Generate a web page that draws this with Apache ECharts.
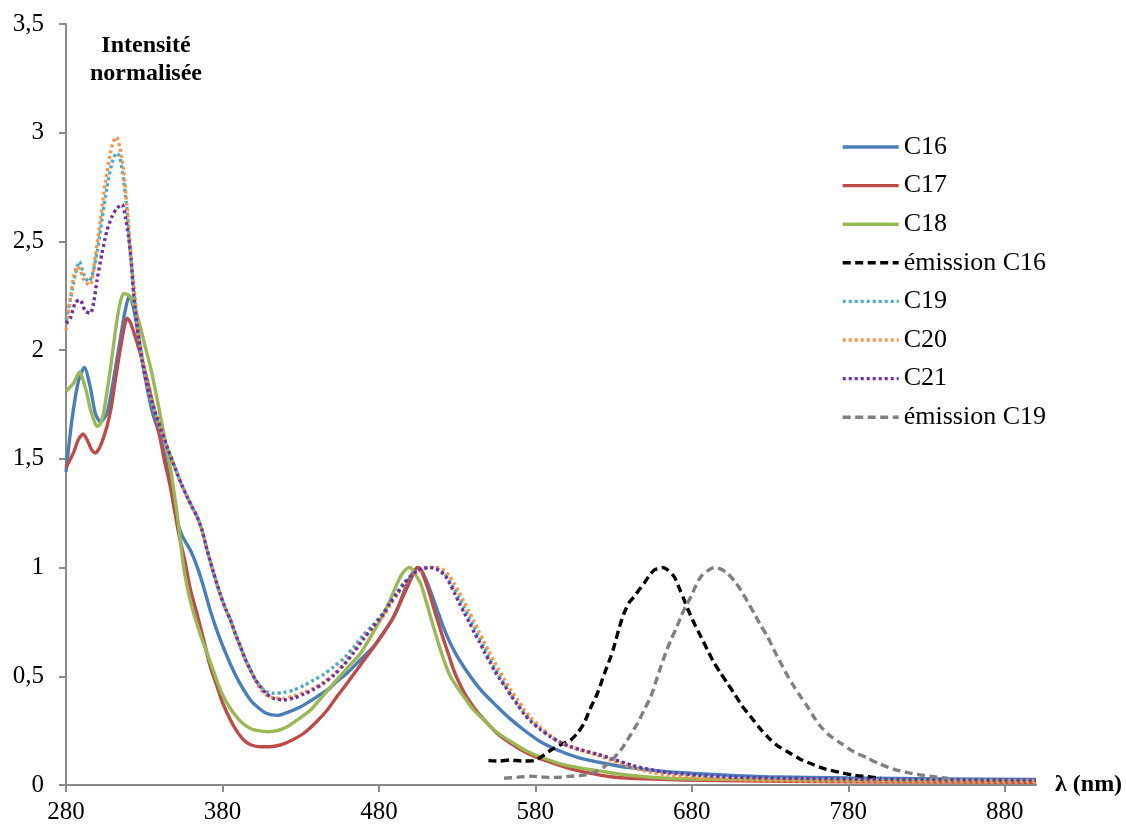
<!DOCTYPE html>
<html>
<head>
<meta charset="utf-8">
<script src="https://cdn.jsdelivr.net/npm/echarts@6/dist/echarts.min.js"></script>
<style>
html,body{margin:0;padding:0;background:#fff;}
#chart{width:1126px;height:827px;}
</style>
</head>
<body>
<div id="chart"></div>
<script>
const xTicks = [280, 380, 480, 580, 680, 780, 880];
const seriesNames = ['C16', 'C17', 'C18', 'émission C16', 'C19', 'C20', 'C21', 'émission C19'];

const C16 = [[280,1.44],[283.8,1.68],[288,1.86],[291.7,1.92],[295.5,1.83],[298.7,1.71],[302,1.67],[306.2,1.71],[310,1.85],[314,2.02],[317.5,2.17],[320.5,2.25],[323,2.2],[326,2.08],[330,1.9],[335,1.72],[340.3,1.6],[345.6,1.43],[349.9,1.25],[354,1.15],[359.5,1.08],[364,1.0],[368,0.91],[372.3,0.8],[377,0.7],[383,0.59],[388,0.51],[393.6,0.437],[398,0.39],[402.2,0.36],[408,0.33],[415,0.32],[422,0.335],[430,0.36],[438,0.395],[447,0.437],[453,0.475],[459.7,0.515],[468,0.575],[476.6,0.636],[483,0.7],[489.4,0.774],[494,0.85],[499,0.943],[503,0.99],[505,1.0],[508,0.975],[511,0.93],[514,0.87],[517.3,0.805],[521,0.73],[525.8,0.65],[531,0.58],[538.6,0.498],[546,0.43],[555.7,0.36],[563,0.31],[572.7,0.253],[583,0.2],[594,0.161],[608,0.125],[624,0.1],[640,0.08],[664,0.061],[690,0.05],[728,0.038],[780,0.032],[840,0.028],[900,0.025]];

const C17 = [[280,1.46],[284.9,1.53],[288,1.59],[290.9,1.614],[294,1.58],[296.5,1.54],[298.7,1.527],[302,1.56],[306.2,1.65],[309,1.74],[311.5,1.86],[315.8,2.05],[319,2.147],[321,2.13],[324.3,2.06],[328.6,1.955],[334,1.8],[340.3,1.59],[343,1.49],[346.7,1.372],[349,1.28],[352,1.158],[356,1.03],[359.5,0.9],[364,0.78],[368,0.667],[372,0.55],[376.6,0.452],[380,0.38],[385.1,0.299],[389,0.25],[393.6,0.207],[398,0.185],[404.3,0.176],[410,0.176],[417,0.184],[424,0.205],[432,0.238],[440,0.29],[447,0.345],[453,0.405],[459.7,0.468],[468,0.55],[476.8,0.636],[483,0.7],[489.5,0.774],[495,0.86],[500.2,0.943],[503,0.985],[505,1.0],[507,0.99],[508.7,0.958],[512,0.89],[515,0.815],[518,0.745],[521.5,0.665],[525,0.59],[528,0.525],[532,0.46],[536.5,0.4],[543,0.335],[549.3,0.284],[556,0.235],[564.2,0.192],[574,0.15],[585.5,0.115],[600,0.08],[613.3,0.057],[628,0.038],[650,0.028],[700,0.02],[780,0.015],[900,0.012]];

const C18 = [[280,1.81],[285,1.85],[288.7,1.9],[291,1.86],[293.4,1.8],[295.5,1.73],[297.7,1.68],[299.8,1.65],[302,1.66],[304,1.71],[306,1.8],[308.3,1.91],[310.5,2.03],[312.6,2.14],[314.7,2.22],[316.8,2.26],[319.5,2.255],[322.2,2.23],[325,2.17],[327.5,2.108],[330.5,2.02],[333.9,1.924],[337,1.82],[340.3,1.7],[343.5,1.58],[346.7,1.46],[349,1.35],[351,1.25],[353,1.13],[355.2,1.0],[358.4,0.88],[361.6,0.79],[366,0.69],[370.2,0.606],[374.5,0.52],[378.7,0.437],[383,0.375],[387.2,0.33],[392,0.29],[397.9,0.26],[403,0.25],[408.6,0.245],[415,0.25],[421.4,0.268],[428,0.3],[436.3,0.345],[443,0.4],[451.2,0.468],[460,0.54],[468.3,0.606],[477,0.71],[485.3,0.82],[490,0.9],[493.8,0.958],[497,0.99],[499.8,1.0],[502,0.985],[504,0.96],[506.6,0.928],[510,0.85],[513,0.774],[516,0.7],[519.4,0.621],[522.5,0.555],[525.8,0.498],[530,0.45],[534.3,0.406],[540,0.35],[547.1,0.299],[555,0.245],[564.2,0.2],[574,0.158],[585.5,0.123],[600,0.09],[624,0.061],[640,0.045],[664,0.031],[700,0.026],[780,0.022],[900,0.02]];

const EM_C16 = [[550,0.112],[557,0.11],[564,0.115],[572,0.11],[579,0.112],[585,0.135],[590,0.161],[596,0.185],[602.6,0.207],[607,0.24],[611.1,0.284],[615,0.35],[619.7,0.422],[624,0.51],[628.2,0.59],[630.3,0.636],[633.5,0.72],[636.7,0.79],[640,0.84],[643.1,0.866],[646,0.895],[649.5,0.928],[652.5,0.96],[655.9,0.989],[658.5,0.995],[661.2,1.0],[664.5,0.99],[668.7,0.958],[672,0.905],[675.1,0.851],[678,0.8],[681.5,0.744],[686,0.68],[690,0.621],[694,0.565],[698.5,0.514],[703,0.465],[707,0.422],[712,0.365],[717.7,0.314],[723,0.265],[728.4,0.222],[734,0.185],[741.2,0.153],[749,0.12],[758.2,0.092],[766,0.072],[775.3,0.057],[783,0.046],[792.4,0.038],[800.9,0.031]];

const C19 = [[280,2.14],[282.7,2.23],[286,2.35],[288.5,2.407],[291.3,2.35],[294.5,2.315],[296.6,2.34],[299.8,2.446],[303,2.6],[306.2,2.75],[309.4,2.86],[312.2,2.906],[314.3,2.89],[316.8,2.78],[319,2.645],[321.1,2.446],[323.2,2.29],[326.4,2.06],[329,1.94],[331.8,1.83],[335,1.75],[338.2,1.68],[341.5,1.61],[344.6,1.55],[348,1.49],[351,1.434],[354,1.38],[357.4,1.326],[360.5,1.28],[363.8,1.234],[367,1.17],[370.2,1.08],[374.4,0.974],[378.7,0.875],[382,0.81],[385.1,0.759],[388,0.7],[391.5,0.636],[394.5,0.58],[397.9,0.529],[401,0.485],[404.3,0.452],[408,0.43],[412.8,0.422],[419,0.425],[425.6,0.437],[432,0.458],[438.4,0.483],[445,0.51],[451.2,0.544],[458,0.585],[464,0.636],[470,0.69],[476,0.735],[483.2,0.795],[487,0.84],[491.7,0.89],[496,0.93],[500.2,0.962],[504.5,0.985],[508.7,0.997],[513,1.0],[517,0.998],[521.5,0.978],[525,0.94],[527.9,0.905],[531,0.865],[534.3,0.82],[537.5,0.775],[540.7,0.728],[544,0.68],[547.1,0.636],[550.3,0.59],[553.5,0.544],[556.7,0.505],[559.9,0.468],[564,0.42],[568.5,0.376],[572.5,0.335],[577,0.299],[583,0.26],[589.8,0.222],[596,0.195],[602.6,0.176],[611,0.158],[619.7,0.14],[630,0.115],[643,0.084],[654,0.066],[664.4,0.054],[685,0.042],[707,0.034],[750,0.028],[800,0.024],[900,0.02]];

const C20 = [[280,2.09],[283,2.25],[285,2.34],[287,2.384],[289,2.37],[291,2.33],[293.4,2.308],[295.5,2.3],[298.7,2.43],[302,2.6],[305.1,2.77],[308.3,2.906],[310.4,2.96],[312.2,2.98],[314.3,2.936],[316.8,2.83],[319,2.66],[321.1,2.47],[323.2,2.31],[326.4,2.08],[329,1.96],[331.8,1.85],[335,1.76],[338.2,1.69],[341.5,1.62],[344.6,1.556],[348,1.49],[351,1.434],[354,1.38],[357.4,1.326],[360.5,1.28],[363.8,1.234],[367,1.17],[370.2,1.08],[374.4,0.974],[378.7,0.875],[382,0.81],[385.1,0.759],[388,0.7],[391.5,0.636],[394.5,0.58],[397.9,0.529],[401,0.485],[404.3,0.44],[408,0.415],[412.8,0.4],[419,0.398],[425.6,0.41],[432,0.425],[438.4,0.445],[445,0.475],[451.2,0.51],[458,0.56],[464,0.615],[470,0.675],[476,0.725],[483.2,0.78],[487,0.825],[491.7,0.875],[496,0.92],[500.2,0.955],[504.5,0.98],[508.7,0.993],[513,1.0],[517,1.0],[521.5,0.99],[525,0.96],[527.9,0.93],[531,0.89],[534.3,0.845],[537.5,0.8],[540.7,0.755],[544,0.705],[547.1,0.66],[550.3,0.615],[553.5,0.57],[556.7,0.53],[559.9,0.49],[564,0.44],[568.5,0.395],[572.5,0.35],[577,0.31],[583,0.268],[589.8,0.226],[596,0.196],[602.6,0.175],[611,0.155],[619.7,0.137],[630,0.11],[643,0.078],[654,0.058],[664.4,0.046],[685,0.032],[707,0.025],[750,0.018],[800,0.016],[900,0.013]];

const C21 = [[280,2.124],[283,2.15],[286,2.22],[289,2.23],[292.3,2.18],[295.5,2.17],[297.7,2.22],[299.8,2.32],[303,2.446],[306.2,2.55],[309.4,2.614],[312.6,2.653],[315.8,2.67],[317.9,2.614],[320,2.52],[321.6,2.415],[323.2,2.26],[326.4,2.06],[329,1.94],[331.8,1.84],[335,1.76],[338.2,1.69],[341.5,1.62],[344.6,1.556],[348,1.49],[351,1.434],[354,1.38],[357.4,1.326],[360.5,1.28],[363.8,1.234],[367,1.17],[370.2,1.08],[374.4,0.974],[378.7,0.875],[382,0.81],[385.1,0.759],[388,0.7],[391.5,0.636],[394.5,0.58],[397.9,0.529],[401,0.485],[404.3,0.452],[408,0.42],[412.8,0.398],[419.2,0.391],[425.6,0.4],[432,0.418],[438.4,0.44],[445,0.47],[451.2,0.505],[458,0.555],[464,0.61],[470,0.67],[476,0.725],[483.2,0.79],[487,0.835],[491.7,0.882],[496,0.925],[500.2,0.958],[504.5,0.985],[508.7,0.997],[512,1.0],[515,0.998],[519,0.985],[522.5,0.96],[525.5,0.925],[528.5,0.88],[531.5,0.835],[534.7,0.79],[538,0.745],[541,0.7],[544.5,0.655],[547.5,0.61],[551,0.565],[554,0.525],[557.5,0.485],[561,0.45],[565,0.405],[569,0.365],[573,0.325],[577.5,0.29],[583,0.256],[589.8,0.222],[596,0.195],[602.6,0.176],[611,0.158],[619.7,0.142],[630,0.118],[643,0.088],[654,0.07],[664.4,0.058],[685,0.045],[707,0.036],[750,0.03],[800,0.026],[900,0.022]];

const EM_C19 = [[560,0.031],[568,0.035],[577,0.041],[585,0.036],[594,0.035],[602,0.04],[611.1,0.046],[618,0.06],[624,0.084],[629,0.115],[634.6,0.161],[640,0.22],[645.3,0.284],[649.5,0.345],[653.8,0.406],[657,0.475],[660.2,0.544],[663.4,0.61],[666.6,0.667],[670,0.72],[673,0.774],[676,0.82],[679.4,0.866],[682.5,0.915],[685.8,0.958],[690,0.985],[694.3,1.0],[698.5,0.993],[702.8,0.974],[707,0.94],[711.3,0.897],[715.5,0.845],[719.8,0.79],[724,0.735],[728.4,0.682],[732.6,0.62],[736.9,0.56],[741,0.505],[745.4,0.452],[749.7,0.405],[754,0.36],[758,0.313],[762.5,0.268],[768,0.228],[775.3,0.192],[783,0.155],[792.4,0.123],[800,0.097],[809.4,0.072],[818,0.057],[826.5,0.046],[835,0.038],[843.6,0.031]];

const seriesData = [C16, C17, C18, EM_C16, C19, C20, C21, EM_C19];
const colors = ['#4A7EBB', '#BE4B48', '#98B954', '#000000', '#4BACC6', '#F79646', '#7030A0', '#808080'];
const lineTypes = ['solid', 'solid', 'solid', [8, 4.5], [3, 3], [3, 3], [3, 3], [8, 4.5]];

const FONT = '"Liberation Serif", "Times New Roman", serif';
const chart = echarts.init(document.getElementById('chart'), null, {renderer: 'canvas'});

const series = seriesNames.map((name, i) => ({
  name: name,
  type: 'line',
  data: seriesData[i],
  showSymbol: false,
  symbol: 'none',
  smooth: 0.25,
  color: colors[i],
  lineStyle: {color: colors[i], width: 3.4, type: lineTypes[i]},
  z: 2 + i,
  animation: false
}));

chart.setOption({
  animation: false,
  backgroundColor: '#ffffff',
  textStyle: {fontFamily: FONT},
  grid: {left: 66, right: 90, top: 24, bottom: 42, containLabel: false},
  title: {
    text: 'Intensité\nnormalisée',
    left: 141,
    top: 27,
    textAlign: 'center',
    textStyle: {fontFamily: FONT, fontSize: 24, fontWeight: 'bold', color: '#000', lineHeight: 28}
  },
  legend: {
    orient: 'vertical',
    left: 841,
    top: 134,
    padding: 0,
    itemWidth: 56,
    itemHeight: 14,
    itemGap: 12.6,
    data: seriesNames,
    itemStyle: {opacity: 0},
    lineStyle: {width: 3.4},
    textStyle: {fontFamily: FONT, fontSize: 26, color: '#000', lineHeight: 26}
  },
  xAxis: {
    type: 'value',
    min: 280,
    max: 900,
    interval: 100,
    axisLine: {show: true, onZero: false, lineStyle: {color: '#8a8a8a', width: 2}},
    axisTick: {show: true, inside: false, length: 7, customValues: xTicks, lineStyle: {color: '#8a8a8a', width: 2}},
    axisLabel: {customValues: xTicks, margin: 15, fontFamily: FONT, fontSize: 25, color: '#000'},
    splitLine: {show: false}
  },
  yAxis: {
    type: 'value',
    min: 0,
    max: 3.5,
    interval: 0.5,
    axisLine: {show: true, lineStyle: {color: '#8a8a8a', width: 2}},
    axisTick: {show: true, inside: false, length: 7, lineStyle: {color: '#8a8a8a', width: 2}},
    axisLabel: {
      margin: 22, fontFamily: FONT, fontSize: 25, color: '#000',
      formatter: v => String(v).replace('.', ',')
    },
    splitLine: {show: false}
  },
  graphic: [{
    type: 'text',
    left: 1055,
    top: 773,
    style: {text: 'λ (nm)', font: 'bold 24px ' + FONT, fill: '#000'}
  }],
  series: series
});
</script>
</body>
</html>
